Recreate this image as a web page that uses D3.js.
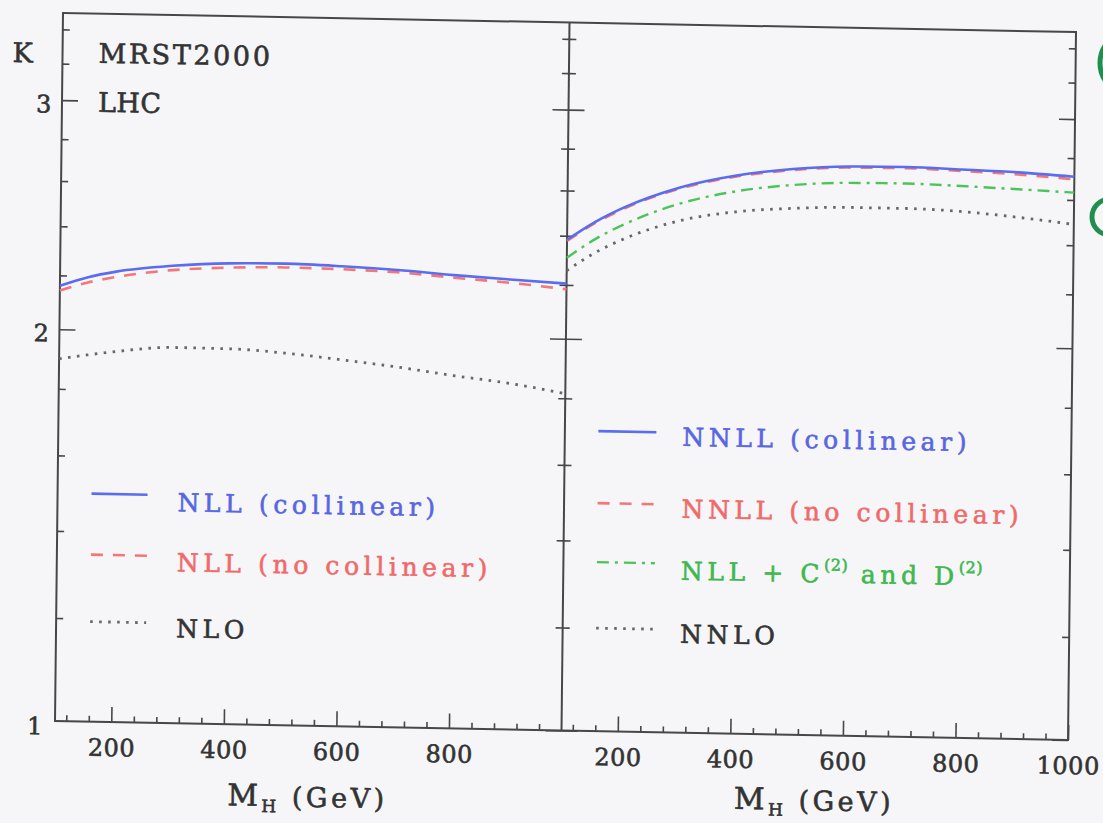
<!DOCTYPE html>
<html>
<head>
<meta charset="utf-8">
<script src="https://cdn.jsdelivr.net/npm/d3@7"></script>
<style>
  html, body { margin: 0; padding: 0; background: #f6f6f9; }
  svg { display: block; }
  text { font-family: "DejaVu Serif", "Liberation Serif", serif; }
</style>
</head>
<body>
<svg id="chart" width="1103" height="823"></svg>
<script>
// ---- data: K factors vs Higgs mass (GeV), MRST2000, LHC ----
const massGrid = [100, 150, 200, 300, 400, 500, 600, 700, 800, 900, 1000];

// left panel
const nllCollinear   = [2.160, 2.195, 2.219, 2.246, 2.260, 2.263, 2.257, 2.246, 2.230, 2.217, 2.205];
const nllNoCollinear = [2.142, 2.175, 2.198, 2.229, 2.243, 2.248, 2.245, 2.237, 2.220, 2.204, 2.183];
const nlo            = [1.898, 1.913, 1.926, 1.944, 1.943, 1.932, 1.913, 1.892, 1.867, 1.845, 1.815];

// right panel
const nnllCollinear   = [2.383, 2.462, 2.527, 2.624, 2.685, 2.721, 2.738, 2.741, 2.734, 2.725, 2.709];
const nnllNoCollinear = [2.378, 2.457, 2.522, 2.619, 2.680, 2.716, 2.733, 2.735, 2.727, 2.715, 2.697];
const nllC2D2         = [2.308, 2.388, 2.452, 2.550, 2.611, 2.645, 2.660, 2.662, 2.655, 2.645, 2.634];
const nnlo            = [2.256, 2.331, 2.390, 2.474, 2.518, 2.538, 2.547, 2.547, 2.538, 2.517, 2.490];

// axes
const yMajorTicks = [1, 2, 3];
const yMinorTicks = [1.2, 1.4, 1.6, 1.8, 2.2, 2.4, 2.6, 2.8, 3.2, 3.4];
const xTickLabelsLeft  = [200, 400, 600, 800];
const xTickLabelsRight = [200, 400, 600, 800, 1000];
const xMinorTicks = [120, 160, 240, 280, 320, 360, 440, 480, 520, 560, 640, 680, 720, 760, 840, 880, 920, 960];

// ---- styles ----
const styles = {
  collinear:   { color: "#5a6cf0", text: "#5866e2", dash: null,        width: 2.6 },
  noCollinear: { color: "#f47676", text: "#f06a6a", dash: "12,10",     width: 2.6 },
  c2d2:        { color: "#4cc45a", text: "#3fb84e", dash: "12,6,3,6",  width: 2.4 },
  fixedOrder:  { color: "#66666e", text: "#333333", dash: "2.6,6.4",   width: 2.8 }
};

const leftSeries = [
  { values: nlo,            style: styles.fixedOrder },
  { values: nllNoCollinear, style: styles.noCollinear },
  { values: nllCollinear,   style: styles.collinear }
];
const rightSeries = [
  { values: nnlo,            style: styles.fixedOrder },
  { values: nllC2D2,         style: styles.c2d2 },
  { values: nnllNoCollinear, style: styles.noCollinear },
  { values: nnllCollinear,   style: styles.collinear }
];

// ---- frame geometry ----
const W = 1013, H = 708, PW = W / 2;
const svg = d3.select("#chart");
svg.append("rect").attr("width", 1103).attr("height", 823).attr("fill", "#f6f6f9");

// the whole figure sits slightly tilted on the page
const g = svg.append("g").attr("transform", "matrix(1,0.01876,-0.0113,1,63,13)");

const y = d3.scaleLog().domain([1, 3.5]).range([H, 0]);
const xL = d3.scaleLinear().domain([100, 1000]).range([0, PW]);
const xR = d3.scaleLinear().domain([100, 1000]).range([PW, W]);

const ink = "#474747";

function styleAxis(sel) {
  sel.select(".domain").remove();
  sel.selectAll(".tick line").attr("stroke", ink).attr("stroke-width", 1.6);
  sel.selectAll(".tick text")
    .attr("fill", "#333")
    .attr("font-family", "DejaVu Serif, serif")
    .attr("font-size", 24)
    .attr("letter-spacing", 0.5);
}

// y ticks: left edge, divider (both sides), right edge
function yTicks(axisGen, xPos, size, values, labelled) {
  const a = axisGen(y).tickValues(values).tickSize(-size).tickPadding(10)
    .tickFormat(labelled ? d3.format("d") : () => "");
  const s = g.append("g").attr("transform", `translate(${xPos},0)`).call(a).call(styleAxis);
  if (labelled) s.selectAll(".tick text").attr("dy", "0.5em");
  return s;
}
yTicks(d3.axisLeft, 0, 16, yMajorTicks.filter(v => v > 1), true);
g.append("g").call(d3.axisLeft(y).tickValues([1]).tickSize(0).tickPadding(12).tickFormat(d3.format("d")))
  .call(styleAxis).selectAll(".tick text").attr("dy", "0.55em");
yTicks(d3.axisLeft, 0, 7, yMinorTicks, false);
yTicks(d3.axisRight, PW, 16, yMajorTicks, false);
yTicks(d3.axisRight, PW, 7, yMinorTicks, false);
yTicks(d3.axisLeft, PW, 16, yMajorTicks, false);
yTicks(d3.axisLeft, PW, 7, yMinorTicks, false);
yTicks(d3.axisRight, W, 16, yMajorTicks, false);
yTicks(d3.axisRight, W, 7, yMinorTicks, false);

// x ticks for both panels
[[xL, xTickLabelsLeft], [xR, xTickLabelsRight]].forEach(([x, labels]) => {
  g.append("g").attr("transform", `translate(0,${H})`)
    .call(d3.axisBottom(x).tickValues(labels).tickSize(-15).tickPadding(17).tickFormat(d3.format("d")))
    .call(styleAxis);
  g.append("g").attr("transform", `translate(0,${H})`)
    .call(d3.axisBottom(x).tickValues(xMinorTicks).tickSize(-6).tickFormat(() => ""))
    .call(styleAxis);
});

// frame and divider
g.append("rect").attr("x", 0).attr("y", 0).attr("width", W).attr("height", H)
  .attr("fill", "none").attr("stroke", ink).attr("stroke-width", 2);
g.append("line").attr("x1", PW).attr("x2", PW).attr("y1", 0).attr("y2", H)
  .attr("stroke", ink).attr("stroke-width", 2);

// curves
function drawSeries(x, series) {
  const line = d3.line().x((d, i) => x(massGrid[i])).y(d => y(d)).curve(d3.curveMonotoneX);
  series.forEach(s => {
    g.append("path").datum(s.values).attr("d", line)
      .attr("fill", "none")
      .attr("stroke", s.style.color)
      .attr("stroke-width", s.style.width)
      .attr("stroke-dasharray", s.style.dash);
  });
}
drawSeries(xL, leftSeries);
drawSeries(xR, rightSeries);

// ---- labels ----
g.append("text").attr("x", -50).attr("y", 50).attr("font-size", 27).attr("fill", "#333").text("K");
g.append("text").attr("x", 36).attr("y", 49).attr("font-size", 27).attr("letter-spacing", 2.6)
  .attr("fill", "#333").text("MRST2000");
g.append("text").attr("x", 36).attr("y", 98).attr("font-size", 27).attr("letter-spacing", 0.5)
  .attr("fill", "#333").text("LHC");

// axis titles
[[PW / 2, 789], [PW + PW / 2, 783]].forEach(([cx, base]) => {
  const t = g.append("text").attr("x", cx).attr("y", base).attr("text-anchor", "middle")
    .attr("font-size", 27).attr("letter-spacing", 3.5).attr("fill", "#333");
  t.append("tspan").attr("font-size", 30).text("M");
  t.append("tspan").attr("font-size", 17).attr("dy", 6).text("H");
  t.append("tspan").attr("dy", -6).text(" (GeV)");
});

// legends
const legendLeft = [
  { parts: [["NLL (collinear)"]],    style: styles.collinear,   v: 480, base: 496 },
  { parts: [["NLL (no collinear)"]], style: styles.noCollinear, v: 541, base: 556 },
  { parts: [["NLO"]],                style: styles.fixedOrder,  v: 608, base: 622 }
];
const legendRight = [
  { parts: [["NNLL (collinear)"]],    style: styles.collinear,   v: 408, base: 421 },
  { parts: [["NNLL (no collinear)"]], style: styles.noCollinear, v: 480, base: 493 },
  { parts: [["NLL + C"], ["(2)", "sup"], [" and D"], ["(2)", "sup"]], style: styles.c2d2, v: 539, base: 555 },
  { parts: [["NNLO"]],                style: styles.fixedOrder,  v: 605, base: 618 }
];

function drawLegend(entries, x0, x1, tx) {
  entries.forEach(e => {
    g.append("line").attr("x1", x0).attr("x2", x1).attr("y1", e.v).attr("y2", e.v)
      .attr("stroke", e.style.color).attr("stroke-width", e.style.width)
      .attr("stroke-dasharray", e.style.dash);
    const t = g.append("text").attr("x", tx).attr("y", e.base)
      .attr("font-size", 25).attr("letter-spacing", 4.6).attr("fill", e.style.text);
    let raised = false;
    e.parts.forEach(([str, kind]) => {
      const sp = t.append("tspan").text(str);
      if (kind === "sup") {
        sp.attr("font-size", 16).attr("letter-spacing", 0.5).attr("dy", -12);
        raised = true;
      } else if (raised) {
        sp.attr("dy", 12);
        raised = false;
      }
    });
  });
}
drawLegend(legendLeft, 34, 90, 120);
drawLegend(legendRight, 540, 598, 624);

// printed lettering is a little heavier than the plain face
g.selectAll("text").each(function () {
  const t = d3.select(this);
  t.attr("stroke", t.attr("fill")).attr("stroke-width", 0.6);
});

// green marks at the right page margin
svg.append("circle").attr("cx", 1132).attr("cy", 63).attr("r", 32)
  .attr("fill", "none").attr("stroke", "#1f8f4e").attr("stroke-width", 5);
svg.append("circle").attr("cx", 1110).attr("cy", 217).attr("r", 18)
  .attr("fill", "none").attr("stroke", "#1f8f4e").attr("stroke-width", 5);
</script>
</body>
</html>
